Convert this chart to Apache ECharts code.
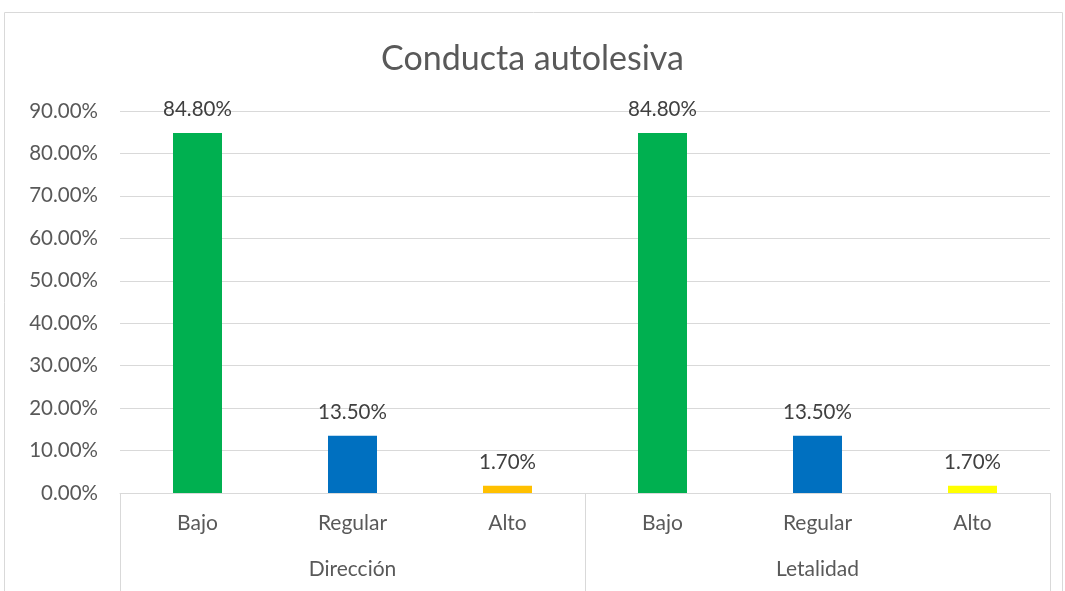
<!DOCTYPE html>
<html>
<head>
<meta charset="utf-8">
<script src="https://cdn.jsdelivr.net/npm/echarts@6/dist/echarts.min.js"></script>
<style>
  html, body { margin: 0; padding: 0; background: #fff; }
  #chart { width: 1065px; height: 591px; }
</style>
</head>
<body>
<div id="chart"></div>
<script>
// data
const categories = ['Bajo', 'Regular', 'Alto', 'Bajo', 'Regular', 'Alto']
const groups = ['Dirección', 'Letalidad']
const values = [84.8, 13.5, 1.7, 84.8, 13.5, 1.7]
const barColors = ['#00B050', '#0070C0', '#FFC000', '#00B050', '#0070C0', '#FFFF00']

const font = 'Lato, "Open Sans", sans-serif'
const textColor = '#595959'
const lineColor = '#D9D9D9'

const myChart = echarts.init(document.getElementById('chart'))

let option = {
  animation: false,
  title: {
    text: 'Conducta autolesiva',
    left: 'center',
    top: 37,
    textStyle: {
      fontFamily: font,
      fontSize: 34,
      fontWeight: 'normal',
      color: textColor
    }
  },
  graphic: [
    {
      type: 'rect',
      shape: { x: 4.5, y: 12.5, width: 1058, height: 600 },
      style: { fill: 'none', stroke: lineColor, lineWidth: 1 },
      silent: true
    }
  ],
  grid: {
    left: 120,
    right: 15,
    top: 111,
    bottom: 98
  },
  xAxis: [
    {
      type: 'category',
      data: categories,
      position: 'bottom',
      axisLine: { show: true, lineStyle: { color: lineColor, width: 1 } },
      axisTick: { show: false },
      axisLabel: {
        margin: 20,
        fontFamily: font,
        fontSize: 21,
        color: textColor
      }
    },
    {
      type: 'category',
      data: groups,
      position: 'bottom',
      axisLine: { show: false },
      axisTick: {
        show: true,
        length: 100,
        lineStyle: { color: lineColor, width: 1 }
      },
      axisLabel: {
        margin: 66,
        fontFamily: font,
        fontSize: 21,
        color: textColor
      }
    }
  ],
  yAxis: {
    type: 'value',
    min: 0,
    max: 90,
    interval: 10,
    axisLine: { show: false },
    axisTick: { show: false },
    splitLine: { lineStyle: { color: lineColor, width: 1 } },
    axisLabel: {
      margin: 22,
      fontFamily: font,
      fontSize: 20.5,
      color: textColor,
      formatter: v => v.toFixed(2) + '%'
    }
  },
  series: [
    {
      type: 'bar',
      xAxisIndex: 0,
      barWidth: 49,
      data: values.map((v, i) => ({ value: v, itemStyle: { color: barColors[i] } })),
      label: {
        show: true,
        position: 'top',
        distance: 13,
        fontFamily: font,
        fontSize: 20.5,
        color: '#404040',
        formatter: p => p.value.toFixed(2) + '%'
      }
    }
  ]
}
myChart.setOption(option)
</script>
</body>
</html>
